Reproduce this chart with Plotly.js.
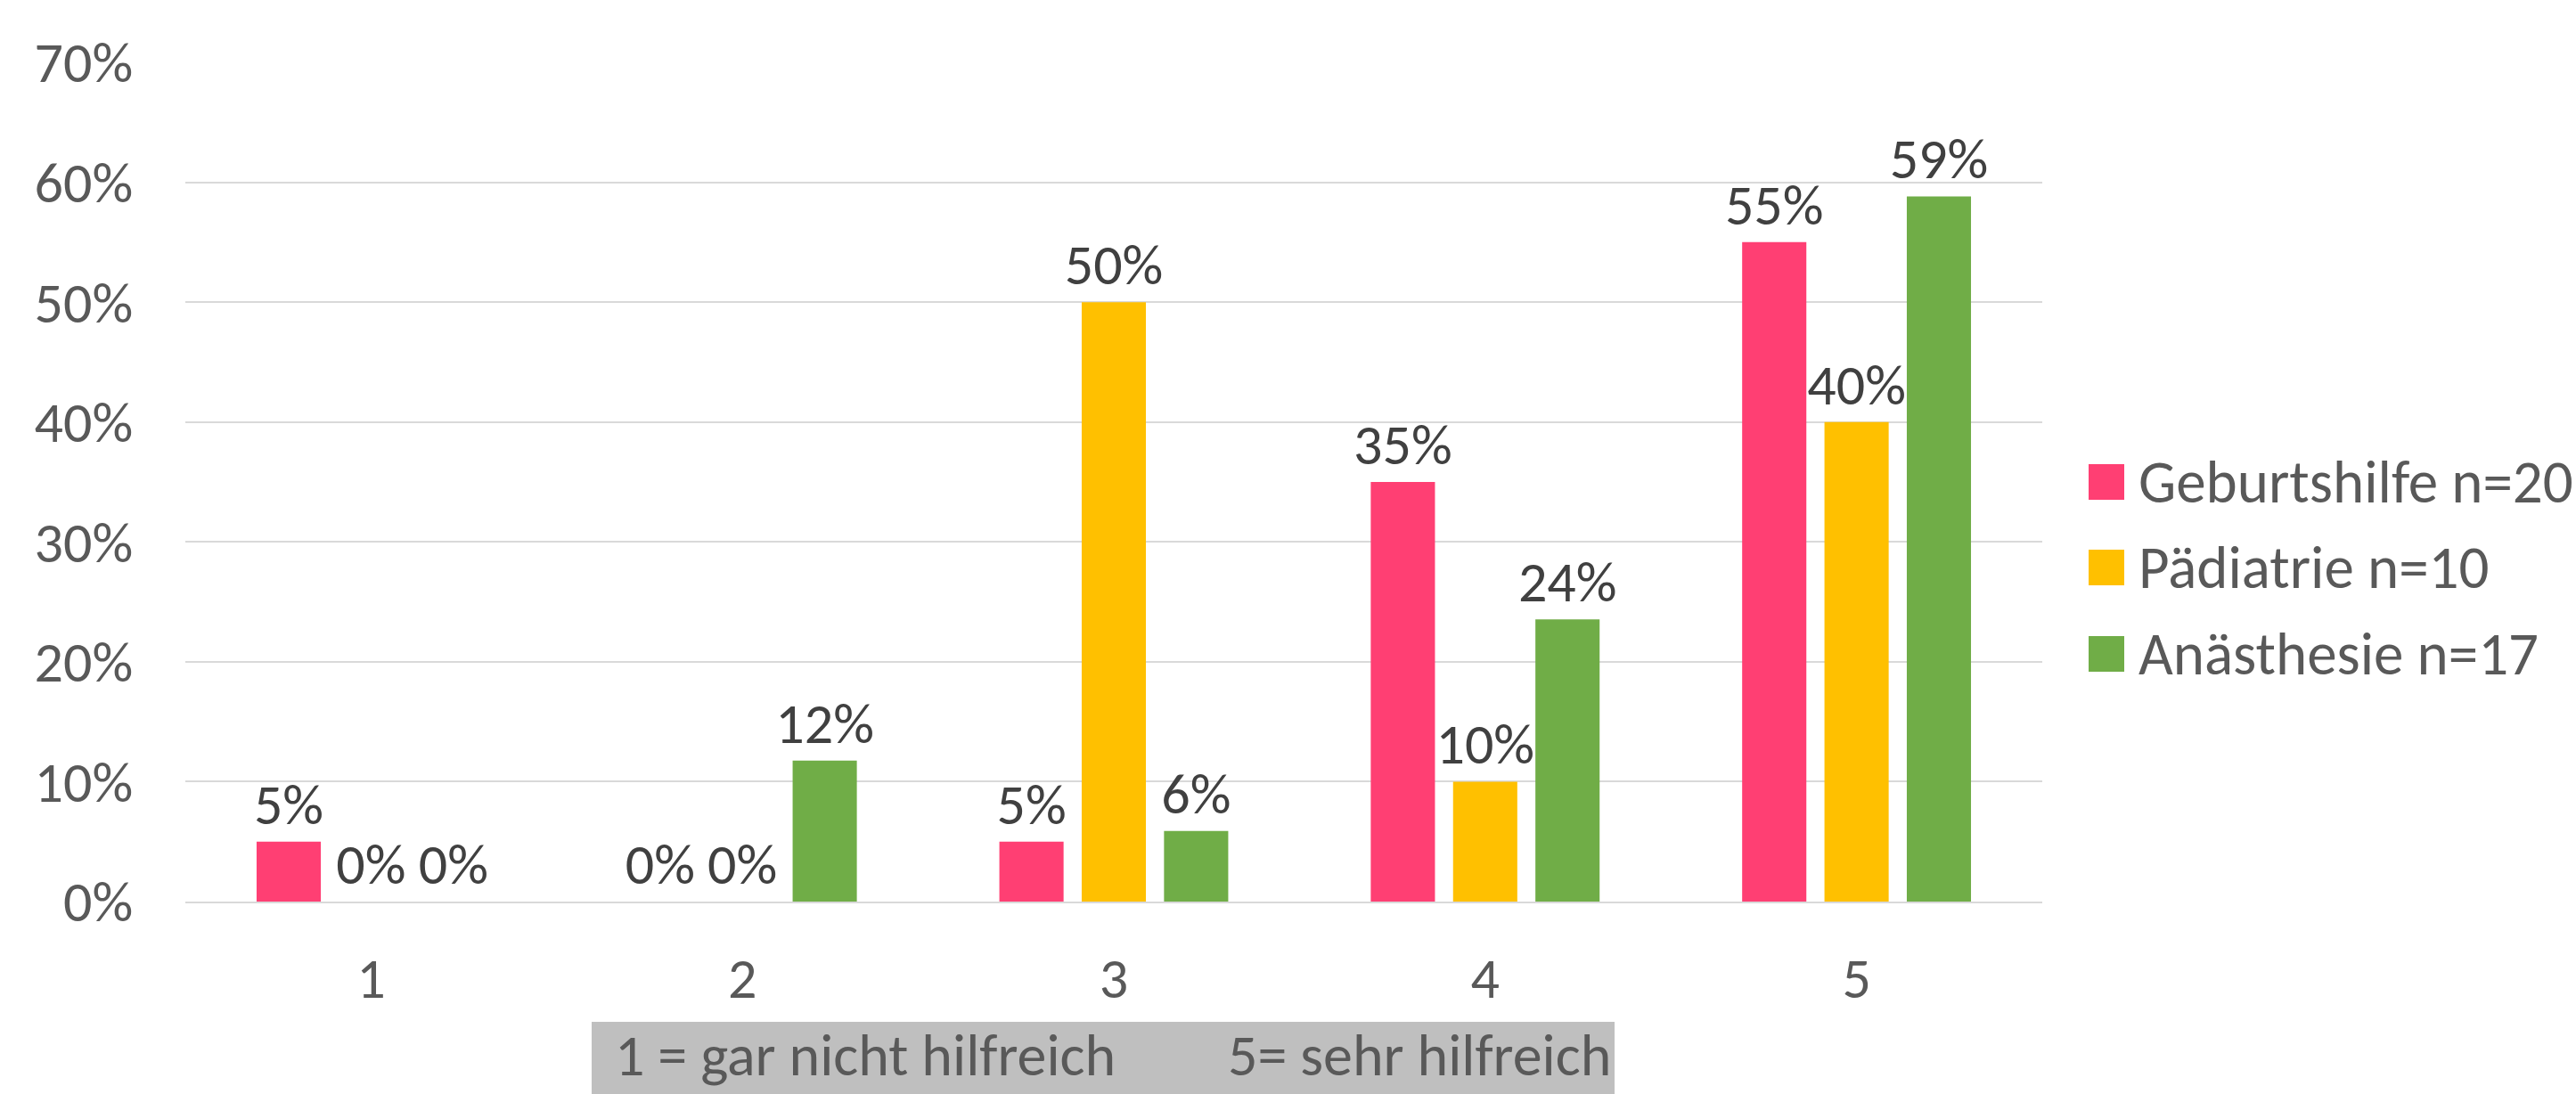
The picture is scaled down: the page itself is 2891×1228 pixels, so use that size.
<!DOCTYPE html>
<html>
<head>
<meta charset="utf-8">
<script src="https://cdn.plot.ly/plotly-3.0.1.min.js"></script>
<style>
  html, body { margin: 0; padding: 0; background: #ffffff; }
  #chart { width: 2891px; height: 1228px; }
</style>
</head>
<body>
<div id="chart"></div>
<script>
// ---- data ----
const categories = ["1", "2", "3", "4", "5"];
const seriesNames = ["Geburtshilfe n=20", "Pädiatrie n=10", "Anästhesie n=17"];
const geburtshilfe = [0.05, 0.00, 0.05, 0.35, 0.55];
const paediatrie   = [0.00, 0.00, 0.50, 0.10, 0.40];
const anaesthesie  = [0.00, 0.1176, 0.0588, 0.2353, 0.5882];
const seriesColors = ["#FF3F73", "#FFC000", "#70AD47"];
const yTickValues = [0, 0.1, 0.2, 0.3, 0.4, 0.5, 0.6, 0.7];
const scaleNoteLeft = "1 = gar nicht hilfreich";
const scaleNoteRight = "5= sehr hilfreich";

const FONT = "Carlito, 'Liberation Sans Narrow', Lato, 'Noto Sans', sans-serif";
const seriesValues = [geburtshilfe, paediatrie, anaesthesie];

const traces = seriesValues.map((vals, i) => ({
  type: "bar",
  x: categories,
  y: vals,
  name: seriesNames[i],
  marker: { color: seriesColors[i], line: { width: 0 } },
  texttemplate: "%{y:.0%}",
  textposition: "outside",
  constraintext: "none",
  cliponaxis: false,
  textfont: { family: FONT, size: 64, color: "#404040" },
  hoverinfo: "skip",
  showlegend: false
}));

// manual legend (large square swatches like the original)
const W = 2891, H = 1228;
const mL = 208, mR = 599, mT = 70, mB = 216;
const plotW = W - mL - mR, plotH = H - mT - mB;
const px2x = px => (px - mL) / plotW;
const py2y = py => (H - mB - py) / plotH;

const legendCenters = [541, 637, 734];
const shapes = [];
const annotations = [];
seriesNames.forEach((nm, i) => {
  const cy = legendCenters[i];
  shapes.push({
    type: "rect", xref: "paper", yref: "paper",
    x0: px2x(2344), x1: px2x(2384), y0: py2y(cy + 20), y1: py2y(cy - 20),
    fillcolor: seriesColors[i], line: { width: 0 }
  });
  annotations.push({
    xref: "paper", yref: "paper", x: px2x(2398), y: py2y(cy),
    xanchor: "left", yanchor: "middle", showarrow: false,
    text: nm, font: { family: FONT, size: 67, color: "#595959" }
  });
});

// grey scale note box under the axis
shapes.push({
  type: "rect", xref: "paper", yref: "paper",
  x0: px2x(664), x1: px2x(1812), y0: py2y(1240), y1: py2y(1147),
  fillcolor: "#BFBFBF", line: { width: 0 }, layer: "below"
});
annotations.push({
  xref: "paper", yref: "paper", x: px2x(688), y: py2y(1184),
  xanchor: "left", yanchor: "middle", showarrow: false,
  text: scaleNoteLeft, font: { family: FONT, size: 66, color: "#595959" }
});
annotations.push({
  xref: "paper", yref: "paper", x: px2x(1376), y: py2y(1184),
  xanchor: "left", yanchor: "middle", showarrow: false,
  text: scaleNoteRight, font: { family: FONT, size: 66, color: "#595959" }
});
// cut-off title glyph at the very top edge
annotations.push({
  xref: "paper", yref: "paper", x: px2x(2381), y: py2y(2),
  xanchor: "center", yanchor: "bottom", showarrow: false, borderpad: 0,
  text: "g", font: { family: FONT, size: 80, color: "#404040" }
});

const layout = {
  width: W, height: H,
  margin: { l: mL, r: mR, t: mT, b: mB, pad: 0 },
  paper_bgcolor: "#ffffff",
  plot_bgcolor: "#ffffff",
  barmode: "group",
  bargap: 0.335,
  bargroupgap: 0.22,
  font: { family: FONT, size: 64, color: "#595959" },
  showlegend: false,
  xaxis: {
    type: "category",
    showgrid: false,
    zeroline: false,
    showline: true, linecolor: "#D9D9D9", linewidth: 2,
    ticks: "outside", ticklen: 29, tickcolor: "rgba(0,0,0,0)",
    tickfont: { family: FONT, size: 64, color: "#595959" }
  },
  yaxis: {
    range: [0, 0.7],
    tickvals: yTickValues,
    tickformat: ".0%",
    showgrid: true, gridcolor: "#D9D9D9", gridwidth: 2,
    zeroline: false, showline: false,
    ticks: "outside", ticklen: 45, tickcolor: "rgba(0,0,0,0)",
    tickfont: { family: FONT, size: 64, color: "#595959" }
  },
  shapes: shapes,
  annotations: annotations
};

Plotly.newPlot("chart", traces, layout, { displayModeBar: false, staticPlot: true });
</script>
</body>
</html>
